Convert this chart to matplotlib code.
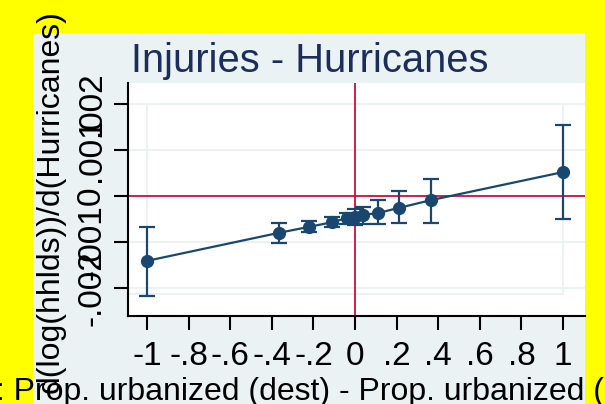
import matplotlib.pyplot as plt
from matplotlib.patches import Rectangle
import numpy as np

plt.rcParams['font.family'] = ['Liberation Sans', 'DejaVu Sans']

# point estimates and 95% CI
urb_diff = [-1.0, -0.365, -0.22, -0.11, -0.04, 0.0, 0.04, 0.11, 0.21, 0.365, 1.0]
coef = [-0.00141, -0.00080, -0.00067, -0.00057, -0.00048, -0.00046,
        -0.00041, -0.00037, -0.00026, -0.00009, 0.00052]
ci_lo = [-0.00217, -0.00102, -0.00078, -0.00067, -0.00061, -0.00063,
         -0.00061, -0.00061, -0.00059, -0.00059, -0.00050]
ci_hi = [-0.00067, -0.00059, -0.00054, -0.00046, -0.00037, -0.00028,
         -0.00024, -0.00009, 0.00011, 0.00037, 0.00154]

xticks = [-1, -0.8, -0.6, -0.4, -0.2, 0, 0.2, 0.4, 0.6, 0.8, 1]
xticklabels = ['-1', '-.8', '-.6', '-.4', '-.2', '0', '.2', '.4', '.6', '.8', '1']
yticks = [-0.002, -0.001, 0, 0.001, 0.002]
yticklabels = ['-.002', '-.001', '0', '.001', '.002']

W, H = 605, 404
navy = '#1a476f'
panel = '#eaf2f3'
red = '#c8103a'

fig = plt.figure(figsize=(W / 100, H / 100), dpi=100)
fig.patch.set_facecolor('#ffff00')
fig.patches.append(Rectangle((33 / W, 0), (585 - 33) / W, 1 - 33 / H,
                             transform=fig.transFigure, facecolor=panel,
                             edgecolor='none', zorder=-1))

ax = fig.add_axes([128 / W, 1 - 316 / H, (585 - 128) / W, (316 - 83) / H])
ax.set_zorder(1)
ax.set_facecolor('white')
ax.set_xlim(-1.0913, 1.1058)
ax.set_ylim(-0.002609, 0.002457)

# light grid / inner frame
for yv in [-0.002, -0.001, 0.001, 0.002]:
    ax.axhline(yv, color=panel, lw=1.4, zorder=1)
for xv in [-1, 1]:
    ax.plot([xv, xv], [-0.00213, 0.002], color=panel, lw=1.4, zorder=1)
ax.plot([-1.0913, 1], [-0.00213, -0.00213], color=panel, lw=1.4, zorder=1)

ax.axhline(0, color=red, lw=1.3, zorder=2)
ax.axvline(0, color=red, lw=1.3, zorder=2)

y = np.array(coef)
yerr = [y - np.array(ci_lo), np.array(ci_hi) - y]
ax.errorbar(urb_diff, coef, yerr=yerr, fmt='-o', color=navy, ms=8.5, lw=1.6,
            elinewidth=1.6, capsize=6, capthick=1.6, zorder=3)

for side in ['top', 'right']:
    ax.spines[side].set_visible(False)
for side in ['left', 'bottom']:
    ax.spines[side].set_linewidth(1.5)
    ax.spines[side].set_color('black')

ax.set_xticks(xticks)
ax.set_xticklabels(xticklabels, fontsize=24)
ax.set_yticks(yticks)
ax.set_yticklabels(yticklabels, fontsize=24, rotation=90, va='center')
ax.tick_params(axis='x', length=10, width=1.5, pad=8)
ax.tick_params(axis='y', length=10, width=1.5, pad=5)

fig.text(310 / W, 1 - 72 / H, 'Injuries - Hurricanes', fontsize=28.7,
         color='#1c2d5a', ha='center', va='baseline')
fig.text(51 / W, 1 - 202 / H, 'd(log(hhlds))/d(Hurricanes)', fontsize=23,
         rotation=90, ha='center', va='center', zorder=3)
fig.text(-3.7 / W, 1 - 400 / H, ': Prop. urbanized (dest) - Prop. urbanized (orig)',
         fontsize=23, ha='left', va='baseline', zorder=3)

fig.savefig('out.png', dpi=100, facecolor=fig.get_facecolor())
